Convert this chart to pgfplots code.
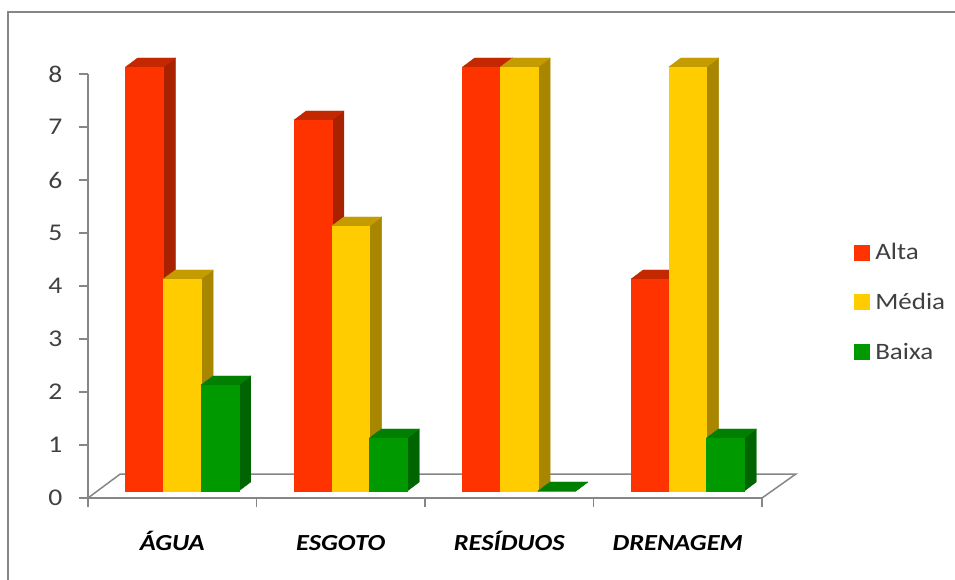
\documentclass[border=0pt]{standalone}
\usepackage{pgfplots}
\pgfplotsset{compat=1.18}
\usepackage{fontspec}
\setmainfont[FakeStretch=1.15]{Carlito}

\definecolor{altaF}{HTML}{FF3300}
\definecolor{altaT}{HTML}{C42800}
\definecolor{altaS}{HTML}{A82200}
\definecolor{mediaF}{HTML}{FFCC00}
\definecolor{mediaT}{HTML}{C49C00}
\definecolor{mediaS}{HTML}{A88600}
\definecolor{baixaF}{HTML}{009900}
\definecolor{baixaT}{HTML}{007F00}
\definecolor{baixaS}{HTML}{006500}
\definecolor{axisgray}{HTML}{868686}
\definecolor{ticktext}{HTML}{404040}

% Values per category, one table for each priority class
\pgfplotstableread{
x val
0.5 8
1.5 7
2.5 8
3.5 4
}\alta
\pgfplotstableread{
x val
0.5 4
1.5 5
2.5 8
3.5 8
}\media
\pgfplotstableread{
x val
0.5 2
1.5 1
2.5 0
3.5 1
}\baixa

\pgfdeclareplotmark{nomark}{}

% Prism bar: front, side and top faces, drawn around the data point
\pgfplotsset{
  prism/.style n args={4}{
    only marks, mark=nomark, scatter, scatter src=y,
    visualization depends on={rawy \as \barval},
    scatter/@pre marker code/.code={%
      \scope
      \pgfmathsetlengthmacro{\barh}{\barval*53pt}%
      \pgfmathsetlengthmacro{\xa}{-46.6pt+#1*37.7pt}%
      \pgfmathsetlengthmacro{\xb}{\xa+37.7pt}%
      \fill[#3] (\xb,7pt-\barh) -- (\xb+12pt,16pt-\barh) -- (\xb+12pt,16pt) -- (\xb,7pt) -- cycle;
      \fill[#4] (\xa,7pt) -- (\xa+12pt,16pt) -- (\xb+12pt,16pt) -- (\xb,7pt) -- cycle;
      \fill[#2] (\xa,7pt-\barh) rectangle (\xb,7pt);
    },
    scatter/@post marker code/.code={\endscope},
    legend image code/.code={\fill[#2] (0pt,-7.5pt) rectangle (15pt,7.5pt);},
  },
}

\begin{document}
\begin{tikzpicture}[x=1pt,y=1pt]
\path[use as bounding box] (0,0) rectangle (955,580);
\draw[axisgray,line width=1.5pt] (8,0) -- (8,568) -- (955,568);
\begin{axis}[
  at={(88pt,82pt)}, anchor=origin,
  scale only axis, width=674pt, height=424pt,
  xmin=0, xmax=4, ymin=0, ymax=8,
  clip=false,
  axis lines*=left,
  axis line style={-, axisgray, line width=1.5pt},
  xtick={0,1,2,3,4},
  xticklabels={},
  extra x ticks={0.5,1.5,2.5,3.5},
  extra x tick labels={ÁGUA,ESGOTO,RESÍDUOS,DRENAGEM},
  extra x tick style={tick style={draw=none}},
  ytick={0,...,8},
  tick align=outside,
  major tick length=9pt,
  tick style={axisgray, line width=1.5pt},
  xticklabel style={font=\fontsize{23}{25}\selectfont\bfseries\itshape, text=black,
    text height=16pt, text depth=0pt, yshift=-24pt},
  yticklabel style={font=\fontsize{24}{26}\selectfont, text=ticktext, xshift=-13pt},
  /pgf/number format/assume math mode=true,
  legend style={at={(1.136,0.462)}, anchor=west, draw=none, fill=none,
    font=\fontsize{23.5}{25}\selectfont, text=ticktext, inner sep=0pt, row sep=28pt,
    /tikz/every odd column/.append style={column sep=4pt}},
  legend cell align=left,
]
% Floor of the chart
\addplot[axisgray, line width=1.5pt, forget plot] coordinates {(0,0) (0.19,0.45) (4.2,0.45) (4,0)};
\addplot[prism={0}{altaF}{altaS}{altaT}] table[x=x,y=val] {\alta};
\addlegendentry{Alta}
\addplot[prism={1}{mediaF}{mediaS}{mediaT}] table[x=x,y=val] {\media};
\addlegendentry{Média}
\addplot[prism={2}{baixaF}{baixaS}{baixaT}] table[x=x,y=val] {\baixa};
\addlegendentry{Baixa}
\end{axis}
\end{tikzpicture}
\end{document}
